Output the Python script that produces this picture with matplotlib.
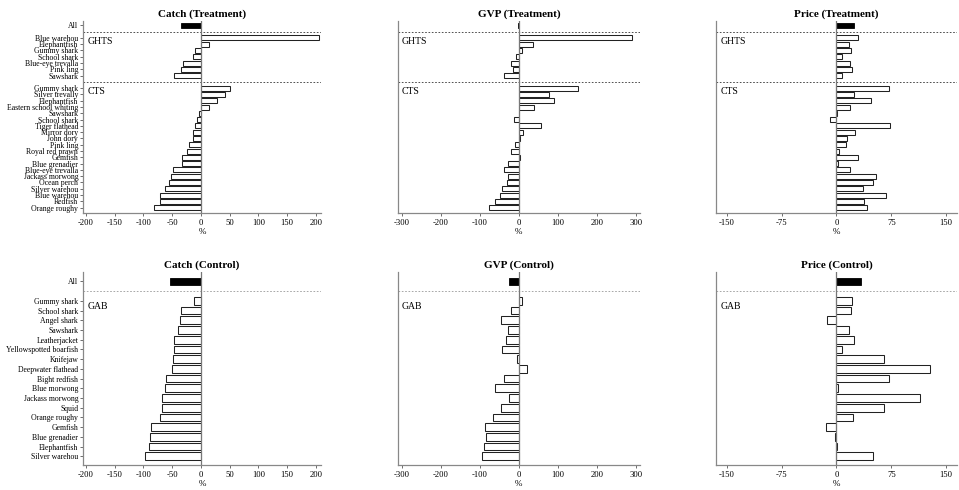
import matplotlib
matplotlib.use("Agg")
import matplotlib.pyplot as plt
import matplotlib.transforms as mtransforms

plt.rcParams['font.family'] = ['Liberation Serif', 'DejaVu Serif']
plt.rcParams['axes.unicode_minus'] = False

# species lists (top to bottom)
ghts_species = ["Blue warehou", "Elephantfish", "Gummy shark", "School shark",
                "Blue-eye trevalla", "Pink ling", "Sawshark"]
cts_species = ["Gummy shark", "Silver trevally", "Elephantfish", "Eastern school whiting",
               "Sawshark", "School shark", "Tiger flathead", "Mirror dory", "John dory",
               "Pink ling", "Royal red prawn", "Gemfish", "Blue grenadier",
               "Blue-eye trevalla", "Jackass morwong", "Ocean perch", "Silver warehou",
               "Blue warehou", "Redfish", "Orange roughy"]
gab_species = ["Gummy shark", "School shark", "Angel shark", "Sawshark", "Leatherjacket",
               "Yellowspotted boarfish", "Knifejaw", "Deepwater flathead", "Bight redfish",
               "Blue morwong", "Jackass morwong", "Squid", "Orange roughy", "Gemfish",
               "Blue grenadier", "Elephantfish", "Silver warehou"]

# treatment (% change)
catch_t_all = -34
catch_t_ghts = [206, 14, -11, -14, -32, -35, -46]
catch_t_cts = [51, 42, 28, 14, -3, -6, -10, -13, -13, -21, -24, -33, -33,
               -48, -52, -55, -62, -71, -72, -82]
gvp_t_all = -3
gvp_t_ghts = [290, 37, 7, -8, -21, -15, -39]
gvp_t_cts = [151, 76, 89, 39, 1, -12, 56, 11, 4, -9, -20, 2, -28,
             -39, -28, -31, -44, -49, -60, -77]
price_t_all = 24
price_t_ghts = [30, 17, 20, 7, 18, 21, 7]
price_t_cts = [72, 24, 47, 18, 0.5, -9, 73, 26, 14, 13, 4, 30, 2,
               18, 54, 50, 36, 68, 37, 42]

# control (% change)
catch_c_all = -54
catch_c_gab = [-12, -35, -36, -40, -47, -47, -48, -51, -61, -62, -67, -68, -72,
               -87, -88, -90, -98]
gvp_c_all = -25
gvp_c_gab = [7, -21, -45, -28, -33, -42, -5, 21, -37, -62, -26, -46, -67,
             -88, -83, -90, -95]
price_c_all = 33
price_c_gab = [21, 20, -13, 17, 24, 7, 65, 128, 72, 2, 115, 65, 22,
               -14, -2, 0.5, 50]


def draw_panel(rect, title, all_val, groups, xlim, xticks, show_labels, dash_color):
    ax = fig.add_axes(rect)
    # layout: All at 0, separator, then each group followed by a separator
    pos = 2
    ypos, vals, labels, seps, group_pos = [], [], [], [1], []
    for gi, (gname, names, values) in enumerate(groups):
        group_pos.append((gname, pos))
        for n, v in zip(names, values):
            ypos.append(pos)
            vals.append(v)
            labels.append(n)
            pos += 1
        if gi < len(groups) - 1:
            seps.append(pos)
            pos += 1
    last = pos - 1

    ax.barh([0], [all_val], height=0.75, color='black', edgecolor='black', lw=0.6)
    ax.barh(ypos, vals, height=0.8, color='white', edgecolor='#222222', lw=0.75)
    for s in seps:
        ax.axhline(s, color=dash_color, ls=(0, (2, 2)), lw=0.6)
    ax.axvline(0, color='#777777', lw=0.9)

    trans = mtransforms.blended_transform_factory(ax.transAxes, ax.transData)
    for gname, gp in group_pos:
        ax.text(0.018, gp + 0.6, gname, transform=trans, fontsize=7, ha='left', va='center')

    ax.set_xlim(*xlim)
    ax.set_ylim(last + 0.9, -0.73 if last > 20 else -1.0)
    ax.set_xticks(xticks)
    ax.set_xticklabels([str(t) for t in xticks], fontsize=6.2)
    if show_labels:
        ax.set_yticks([0] + ypos)
        ax.set_yticklabels(["All"] + labels, fontsize=5.6)
    else:
        ax.set_yticks([])
    ax.tick_params(axis='y', length=2, width=0.6, color='#555555', pad=1.5)
    ax.tick_params(axis='x', length=2, width=0.6, color='#555555', pad=2)
    ax.set_xlabel('%', fontsize=6.5, labelpad=1)
    ax.set_title(title, fontsize=8, fontweight='bold', pad=3)
    for side in ['top', 'right']:
        ax.spines[side].set_visible(False)
    for side in ['left', 'bottom']:
        ax.spines[side].set_color('#888888')
        ax.spines[side].set_linewidth(0.9)
    return ax


fig = plt.figure(figsize=(9.59, 4.9), dpi=100)

lefts = [0.0866, 0.4147, 0.7466]
widths = [0.2482, 0.2528, 0.2513]
top_row = (0.5647, 0.393)
bot_row = (0.051, 0.3945)

catch_lim, catch_ticks = (-205, 209), [-200, -150, -100, -50, 0, 50, 100, 150, 200]
gvp_lim, gvp_ticks = (-310, 310), [-300, -200, -100, 0, 100, 200, 300]
price_lim, price_ticks = (-165, 165), [-150, -75, 0, 75, 150]

draw_panel([lefts[0], top_row[0], widths[0], top_row[1]], 'Catch (Treatment)', catch_t_all,
           [("GHTS", ghts_species, catch_t_ghts), ("CTS", cts_species, catch_t_cts)],
           catch_lim, catch_ticks, True, '#333333')
draw_panel([lefts[1], top_row[0], widths[1], top_row[1]], 'GVP (Treatment)', gvp_t_all,
           [("GHTS", ghts_species, gvp_t_ghts), ("CTS", cts_species, gvp_t_cts)],
           gvp_lim, gvp_ticks, False, '#333333')
draw_panel([lefts[2], top_row[0], widths[2], top_row[1]], 'Price (Treatment)', price_t_all,
           [("GHTS", ghts_species, price_t_ghts), ("CTS", cts_species, price_t_cts)],
           price_lim, price_ticks, False, '#333333')

draw_panel([lefts[0], bot_row[0], widths[0], bot_row[1]], 'Catch (Control)', catch_c_all,
           [("GAB", gab_species, catch_c_gab)],
           catch_lim, catch_ticks, True, '#999999')
draw_panel([lefts[1], bot_row[0], widths[1], bot_row[1]], 'GVP (Control)', gvp_c_all,
           [("GAB", gab_species, gvp_c_gab)],
           gvp_lim, gvp_ticks, False, '#999999')
draw_panel([lefts[2], bot_row[0], widths[2], bot_row[1]], 'Price (Control)', price_c_all,
           [("GAB", gab_species, price_c_gab)],
           price_lim, price_ticks, False, '#999999')

fig.savefig('out.png', dpi=100)
